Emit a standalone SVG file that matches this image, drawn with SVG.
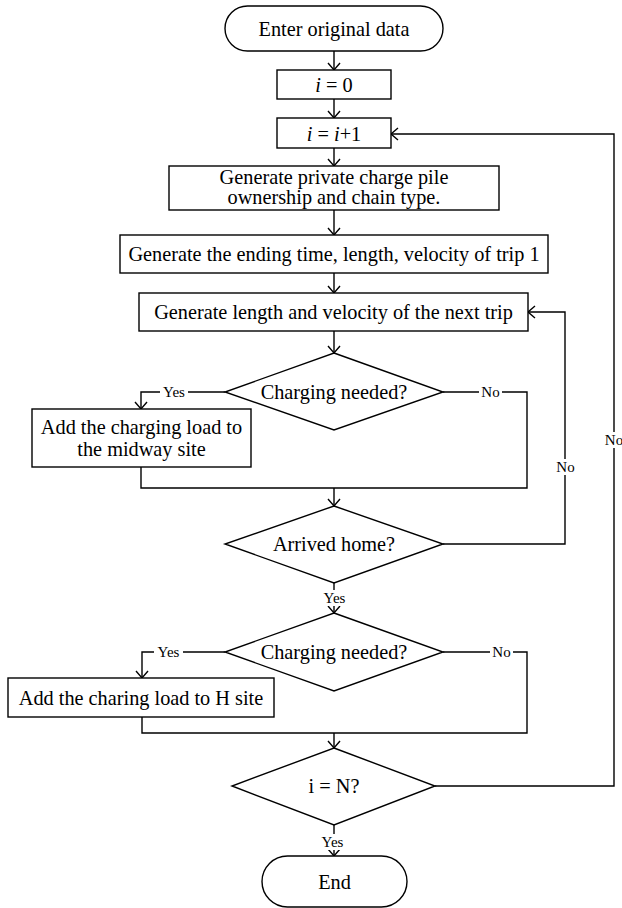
<svg xmlns="http://www.w3.org/2000/svg" width="622" height="908" viewBox="0 0 622 908">
<style>
.s{fill:#fff;stroke:#000;stroke-width:1.4}
.c{fill:none;stroke:#000;stroke-width:1.4}
text{font-family:"Liberation Serif","Times New Roman",serif;fill:#000}
.t{font-size:20.3px;text-anchor:middle}
.l{font-size:15px;text-anchor:middle}
.bg{fill:#fff;stroke:none}
</style>
<defs>
<marker id="arr" markerWidth="10" markerHeight="14" refX="7" refY="6" orient="auto" markerUnits="userSpaceOnUse" overflow="visible">
<path d="M0,0 L7,6 L0,12" fill="none" stroke="#000" stroke-width="1.4"/>
</marker>
</defs>
<rect width="622" height="908" fill="#fff"/>
<g id="connectors">
<line class="c" x1="334" y1="51" x2="334" y2="70" marker-end="url(#arr)"/>
<line class="c" x1="334" y1="99" x2="334" y2="118" marker-end="url(#arr)"/>
<line class="c" x1="334" y1="148" x2="334" y2="166" marker-end="url(#arr)"/>
<line class="c" x1="334" y1="210" x2="334" y2="235" marker-end="url(#arr)"/>
<line class="c" x1="334" y1="273" x2="334" y2="293" marker-end="url(#arr)"/>
<line class="c" x1="334" y1="331" x2="334" y2="353" marker-end="url(#arr)"/>
<polyline class="c" points="225,392 141,392 141,409" marker-end="url(#arr)"/>
<polyline class="c" points="443,392 527,392 527,488 141,488 141,467"/>
<line class="c" x1="334" y1="488" x2="334" y2="506" marker-end="url(#arr)"/>
<polyline class="c" points="443,544 565,544 565,312 528,312" marker-end="url(#arr)"/>
<line class="c" x1="334" y1="583" x2="334" y2="613" marker-end="url(#arr)"/>
<polyline class="c" points="225,652 142,652 142,678" marker-end="url(#arr)"/>
<polyline class="c" points="443,652 527,652 527,733 142,733 142,717"/>
<line class="c" x1="334" y1="733" x2="334" y2="748" marker-end="url(#arr)"/>
<polyline class="c" points="435,786 614,786 614,134 391,134" marker-end="url(#arr)"/>
<line class="c" x1="334" y1="825" x2="334" y2="856" marker-end="url(#arr)"/>
<rect class="bg" x="160" y="384" width="28" height="16"/>
<text class="l" x="174" y="397">Yes</text>
<rect class="bg" x="479" y="384" width="23" height="16"/>
<text class="l" x="490.5" y="397">No</text>
<rect class="bg" x="554" y="459" width="23" height="16"/>
<text class="l" x="565.5" y="472">No</text>
<rect class="bg" x="320" y="590" width="29" height="16"/>
<text class="l" x="334.5" y="603">Yes</text>
<rect class="bg" x="154" y="644" width="29" height="16"/>
<text class="l" x="168.5" y="657">Yes</text>
<rect class="bg" x="490" y="644" width="23" height="16"/>
<text class="l" x="501.5" y="657">No</text>
<rect class="bg" x="603" y="432" width="22" height="16"/>
<text class="l" x="614" y="445">No</text>
<rect class="bg" x="318" y="834" width="29" height="16"/>
<text class="l" x="332.5" y="847">Yes</text>
</g>
<g id="start">
<rect class="s" x="225" y="6" width="218" height="45" rx="22.5"/>
<text class="t" x="334" y="36">Enter original data</text>
</g>
<g id="init">
<rect class="s" x="277" y="70" width="114" height="29"/>
<text class="t" x="334" y="92"><tspan font-style="italic">i</tspan> = 0</text>
</g>
<g id="increment">
<rect class="s" x="277" y="118" width="114" height="30"/>
<text class="t" x="334" y="141"><tspan font-style="italic">i</tspan> = <tspan font-style="italic">i</tspan>+1</text>
</g>
<g id="genPrivate">
<rect class="s" x="169" y="166" width="330" height="44"/>
<text class="t" x="334" y="184">Generate private charge pile</text>
<text class="t" x="334" y="204">ownership and chain type.</text>
</g>
<g id="genTrip1">
<rect class="s" x="120" y="235" width="428" height="38"/>
<text class="t" x="334" y="261">Generate the ending time, length, velocity of trip 1</text>
</g>
<g id="genNext">
<rect class="s" x="139" y="293" width="389" height="38"/>
<text class="t" x="333.5" y="319">Generate length and velocity of the next trip</text>
</g>
<g id="chargeQ1">
<polygon class="s" points="334,353 443,392 334,430 225,392"/>
<text class="t" x="334" y="399">Charging needed?</text>
</g>
<g id="addMidway">
<rect class="s" x="32" y="409" width="219" height="58"/>
<text class="t" x="141.5" y="434">Add the charging load to</text>
<text class="t" x="141.5" y="456">the midway site</text>
</g>
<g id="arrivedQ">
<polygon class="s" points="334,506 443,544 334,583 225,544"/>
<text class="t" x="334" y="551">Arrived home?</text>
</g>
<g id="chargeQ2">
<polygon class="s" points="334,613 443,652 334,691 225,652"/>
<text class="t" x="334" y="659">Charging needed?</text>
</g>
<g id="addHome">
<rect class="s" x="8" y="678" width="266" height="39"/>
<text class="t" x="141" y="705">Add the charing load to H site</text>
</g>
<g id="iNQ">
<polygon class="s" points="334,748 435,786 334,825 232,786"/>
<text class="t" x="334" y="793">i = N?</text>
</g>
<g id="end">
<rect class="s" x="262" y="856" width="145" height="51" rx="25.5"/>
<text class="t" x="334.5" y="889">End</text>
</g>
</svg>
